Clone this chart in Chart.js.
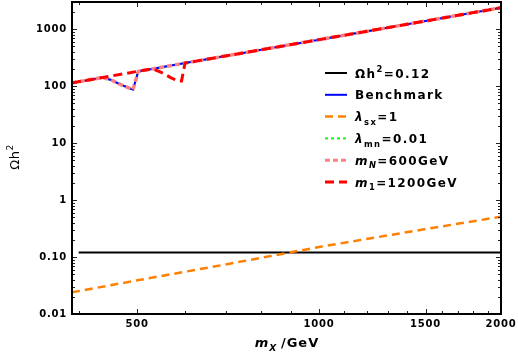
<!DOCTYPE html>
<html>
<head>
<meta charset="utf-8">
<script src="https://cdn.jsdelivr.net/npm/chart.js@4.4.0/dist/chart.umd.min.js"></script>
<style>
  html, body { margin: 0; padding: 0; background: #fff; }
</style>
</head>
<body>
<canvas id="grafico" width="518" height="354"></canvas>
<script>
// valores (x: m_X en GeV, y: Omega h^2)
const relicX = [400, 2000];
const relicY = [0.12, 0.12];

const benchX = [390, 438, 453, 468, 483, 492, 502, 600, 1000, 1500, 2000];
const benchY = [114, 142, 128, 108, 94, 87, 181, 254, 655, 1391, 2380];

const lamSxX = [390, 500, 700, 1000, 1500, 2000];
const lamSxY = [0.024, 0.039, 0.074, 0.15, 0.31, 0.51];

const lamMnX = [390, 438, 453, 468, 483, 492, 502, 600, 1000, 1500, 2000];
const lamMnY = [114, 142, 128, 108, 94, 87, 181, 254, 655, 1391, 2380];

const mNX = [390, 438, 453, 468, 483, 492, 502, 600, 1000, 1500, 2000];
const mNY = [114, 142, 128, 108, 94, 87, 181, 254, 655, 1391, 2380];

const m1X = [390, 530, 548, 569, 585, 592, 600, 1000, 1500, 2000];
const m1Y = [114, 202, 174, 140, 122, 123, 254, 655, 1391, 2380];

// ejes
const xTicks = [500, 1000, 1500, 2000];
const xTickLabels = ["500", "1000", "1500", "2000"];
const xMinor = [400, 600, 700, 800, 900, 1100, 1200, 1300, 1400, 1600, 1700, 1800, 1900];
const yTicks = [0.01, 0.1, 1, 10, 100, 1000];
const yTickLabels = ["0.01", "0.10", "1", "10", "100", "1000"];

// leyenda: [texto, estilo, posicion] estilo b=bold, bi=bold italic, r=regular; pos -1 sub, 1 sup
const leyenda = [
  [["Ωh", "b", 0], ["2", "b", 1], ["=0.12", "b", 0]],
  [["Benchmark", "b", 0]],
  [["λ", "bi", 0], ["sx", "b", -1], ["=1", "b", 0]],
  [["λ", "bi", 0], ["mn", "b", -1], ["=0.01", "b", 0]],
  [["m", "bi", 0], ["N", "bi", -1], ["=600GeV", "b", 0]],
  [["m", "bi", 0], ["1", "b", -1], ["=1200GeV", "b", 0]]
];

const FONT = "'DejaVu Sans', sans-serif";

function pares(xs, ys) {
  return xs.map((x, i) => ({ x: x, y: ys[i] }));
}

// dibuja texto con sub/superindices, devuelve el ancho
function texto(c, runs, x, y, size, soloMedir) {
  let x0 = x;
  runs.forEach(([t, st, pos]) => {
    const s = pos ? size * 0.7 : size;
    const peso = st === "r" ? "" : "bold ";
    const it = st === "bi" ? "italic " : "";
    c.font = it + peso + s.toFixed(1) + "px " + FONT;
    const dy = pos === -1 ? size * 0.3 : pos === 1 ? -size * 0.45 : 0;
    if (!soloMedir) c.fillText(t, x, y + dy);
    x += c.measureText(t).width;
  });
  return x - x0;
}

const marco = {
  id: "marco",
  beforeDraw(chart) {
    chart.ctx.letterSpacing = "0.8px";
  },
  afterDraw(chart) {
    const c = chart.ctx;
    const a = chart.chartArea;
    const sx = chart.scales.x;
    const sy = chart.scales.y;
    c.save();

    // marcas hacia adentro
    c.strokeStyle = "#222";
    c.lineWidth = 1;
    const linea = (x1, y1, x2, y2) => {
      c.beginPath(); c.moveTo(x1, y1); c.lineTo(x2, y2); c.stroke();
    };
    const tickX = (v, len) => {
      const px = Math.round(sx.getPixelForValue(v)) + 0.5;
      linea(px, a.bottom, px, a.bottom - len);
      linea(px, a.top, px, a.top + len);
    };
    const tickY = (v, len) => {
      const py = Math.round(sy.getPixelForValue(v)) + 0.5;
      linea(a.left, py, a.left + len, py);
      linea(a.right, py, a.right - len, py);
    };
    xTicks.forEach((v) => tickX(v, 5));
    xMinor.forEach((v) => tickX(v, 3));
    yTicks.forEach((v) => tickY(v, 5));
    for (let d = 0.01; d < 2000; d *= 10) {
      for (let k = 2; k <= 9; k++) {
        const v = d * k;
        if (v < 3000) tickY(v, 3);
      }
    }

    // recuadro
    c.strokeStyle = "#000";
    c.lineWidth = 2;
    c.strokeRect(a.left, a.top, a.right - a.left, a.bottom - a.top);

    // leyenda
    c.fillStyle = "#000";
    c.textBaseline = "alphabetic";
    c.textAlign = "left";
    chart.data.datasets.forEach((ds, i) => {
      const y = 73 + i * 21.8;
      c.save();
      c.strokeStyle = ds.borderColor;
      c.lineWidth = Math.min(ds.borderWidth, 3);
      c.setLineDash(ds.borderDash || []);
      linea(325, y, 347, y);
      c.restore();
      c.letterSpacing = "1.4px";
      texto(c, leyenda[i], 355, y + 4.5, 12);
    });

    // titulo eje x
    c.letterSpacing = "1px";
    const tx = [["m", "bi", 0], ["X", "bi", -1], ["\u2009/GeV", "b", 0]];
    const w = texto(c, tx, 0, 0, 13, true);
    texto(c, tx, 287 - w / 2, 347, 13);

    // titulo eje y
    c.letterSpacing = "0.5px";
    c.translate(15, 157);
    c.rotate(-Math.PI / 2);
    const ty = [["Ωh", "r", 0], ["2", "r", 1]];
    const wy = texto(c, ty, 0, 0, 13, true);
    texto(c, ty, -wy / 2, 4, 13);

    c.restore();
  }
};

const ctx = document.getElementById("grafico").getContext("2d");

const grafico = new Chart(ctx, {
  type: "line",
  data: {
    datasets: [
      { label: "relic", data: pares(relicX, relicY), borderColor: "#000", borderWidth: 2, order: 5 },
      { label: "Benchmark", data: pares(benchX, benchY), borderColor: "rgb(0,0,255)", borderWidth: 2, order: 2 },
      { label: "lam_sx", data: pares(lamSxX, lamSxY), borderColor: "rgb(255,128,0)", borderWidth: 2.5, borderDash: [8, 5], order: 4 },
      { label: "lam_mn", data: pares(lamMnX, lamMnY), borderColor: "rgb(0,255,0)", borderWidth: 2, borderDash: [3, 3], order: 3 },
      { label: "mN", data: pares(mNX, mNY), borderColor: "rgb(255,128,128)", borderWidth: 3.5, borderDash: [5, 3], order: 1 },
      { label: "m1", data: pares(m1X, m1Y), borderColor: "rgb(255,0,0)", borderWidth: 3, borderDash: [9, 5], order: 0 }
    ]
  },
  options: {
    responsive: false,
    animation: false,
    events: [],
    layout: { padding: { top: 2, right: 17, left: 0, bottom: 0 } },
    elements: { point: { radius: 0 }, line: { tension: 0, fill: false } },
    plugins: { legend: { display: false }, tooltip: { enabled: false } },
    scales: {
      x: {
        type: "logarithmic",
        min: 390,
        max: 2000,
        grid: { display: false, drawTicks: false },
        border: { display: false },
        afterBuildTicks: (s) => { s.ticks = xTicks.map((v) => ({ value: v })); },
        afterFit: (s) => { s.height = 40; s.paddingLeft = 0; s.paddingRight = 0; },
        ticks: {
          autoSkip: false,
          maxRotation: 0,
          padding: 4,
          color: "#000",
          font: { family: FONT, size: 10, weight: "bold" },
          callback: (v) => xTickLabels[xTicks.indexOf(v)]
        }
      },
      y: {
        type: "logarithmic",
        min: 0.01,
        max: 3000,
        grid: { display: false, drawTicks: false },
        border: { display: false },
        afterBuildTicks: (s) => { s.ticks = yTicks.map((v) => ({ value: v })); },
        afterFit: (s) => { s.width = 72; s.paddingTop = 0; s.paddingBottom = 0; },
        ticks: {
          autoSkip: false,
          padding: 5,
          color: "#000",
          font: { family: FONT, size: 10, weight: "bold" },
          callback: (v) => yTickLabels[yTicks.findIndex((t) => Math.abs(t - v) / t < 1e-6)]
        }
      }
    }
  },
  plugins: [marco]
});
</script>
</body>
</html>
